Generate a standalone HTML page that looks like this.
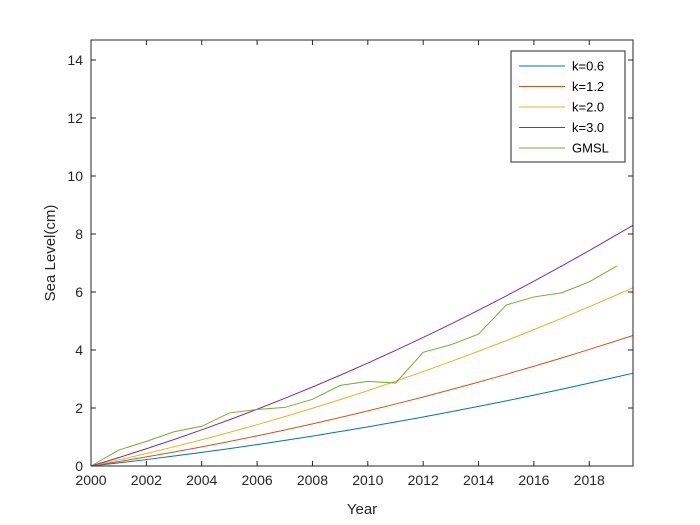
<!DOCTYPE html>
<html><head><meta charset="utf-8"><style>body{margin:0;background:#fff}svg{display:block}</style></head>
<body>
<svg id="chart" width="700" height="525" xmlns="http://www.w3.org/2000/svg" font-family="Liberation Sans, Arial, sans-serif"></svg>
<script>
const years=[2000,2001,2002,2003,2004,2005,2006,2007,2008,2009,2010,2011,2012,2013,2014,2015,2016,2017,2018,2019,2019.58];
const k06=[0,0.108,0.222,0.343,0.469,0.601,0.739,0.883,1.032,1.188,1.35,1.518,1.691,1.871,2.056,2.247,2.445,2.648,2.857,3.073,3.2];
const k12=[0,0.153,0.313,0.483,0.660,0.846,1.040,1.243,1.453,1.672,1.9,2.136,2.380,2.632,2.893,3.162,3.439,3.725,4.019,4.322,4.5];
const k20=[0,0.209,0.430,0.662,0.905,1.159,1.425,1.702,1.990,2.290,2.6,2.923,3.256,3.601,3.957,4.324,4.703,5.093,5.494,5.906,6.15];
const k30=[0,0.290,0.595,0.914,1.247,1.595,1.957,2.334,2.725,3.130,3.55,3.984,4.433,4.896,5.374,5.866,6.372,6.893,7.429,7.979,8.3];
const gmslYears=[2000,2001,2002,2003,2004,2005,2006,2007,2008,2009,2010,2011,2012,2013,2014,2015,2016,2017,2018,2019];
const gmsl=[0,0.55,0.85,1.18,1.37,1.83,1.95,2.02,2.3,2.78,2.92,2.86,3.92,4.18,4.55,5.55,5.83,5.97,6.35,6.9];
const xTicks=[2000,2002,2004,2006,2008,2010,2012,2014,2016,2018];
const yTicks=[0,2,4,6,8,10,12,14];
const seriesNames=["k=0.6","k=1.2","k=2.0","k=3.0","GMSL"];

const L=91,R=633,T=40,B=466,xmin=2000,xmax=2019.58,ymin=0,ymax=14.69;
const sx=v=>L+(v-xmin)/(xmax-xmin)*(R-L);
const sy=v=>B-(v-ymin)/(ymax-ymin)*(B-T);
const svg=document.getElementById('chart');
const NS='http://www.w3.org/2000/svg';
function mk(tag,attrs,parent){const e=document.createElementNS(NS,tag);for(const k in attrs)e.setAttribute(k,attrs[k]);(parent||svg).appendChild(e);return e;}

const axes=mk('rect',{x:L,y:T,width:R-L,height:B-T,fill:'#fff',stroke:'none'});



const colors=['#0072BD','#D95319','#EDB120','#7E2F8E','#77AC30'];
const sets=[[years,k06],[years,k12],[years,k20],[years,k30],[gmslYears,gmsl]];
const lineNames=['line-k06','line-k12','line-k20','line-k30','line-gmsl'];
sets.forEach((s,i)=>{
  const pts=s[0].map((x,j)=>sx(x).toFixed(2)+','+sy(s[1][j]).toFixed(2)).join(' ');
  const p=mk('polyline',{points:pts,fill:'none',stroke:colors[i],'stroke-width':1});
  
  
});

const frame=mk('rect',{x:L,y:T,width:R-L,height:B-T,fill:'none',stroke:'#262626','stroke-width':1});



xTicks.forEach(v=>{
  const x=sx(v);
  mk('line',{x1:x,y1:B,x2:x,y2:B-5,stroke:'#262626'});
  mk('line',{x1:x,y1:T,x2:x,y2:T+5,stroke:'#262626'});
  const t=mk('text',{x:x,y:B+19,'text-anchor':'middle','font-size':14,fill:'#262626'});
  t.textContent=v;
  
  
});
yTicks.forEach(v=>{
  const y=sy(v);
  mk('line',{x1:L,y1:y,x2:L+5,y2:y,stroke:'#262626'});
  mk('line',{x1:R,y1:y,x2:R-5,y2:y,stroke:'#262626'});
  const t=mk('text',{x:L-8,y:y+5,'text-anchor':'end','font-size':14,fill:'#262626'});
  t.textContent=v;
  
  
});

const xt=mk('text',{x:(L+R)/2,y:514,'text-anchor':'middle','font-size':15,fill:'#262626'});
xt.textContent='Year';


const yt=mk('text',{x:0,y:0,'text-anchor':'middle','font-size':15,fill:'#262626',transform:'translate(55,253) rotate(-90)'});
yt.textContent='Sea Level(cm)';



const lg=mk('g',{});


mk('rect',{x:511,y:51,width:114,height:111,fill:'#fff',stroke:'#262626','stroke-width':1},lg);
seriesNames.forEach((n,i)=>{
  const y=66+i*20.5;
  const e=mk('g',{},lg);
  
  
  mk('line',{x1:519,y1:y,x2:565,y2:y,stroke:colors[i],'stroke-width':1},e);
  const t=mk('text',{x:572,y:y+4.5,'font-size':13,fill:'#000'},e);
  t.textContent=n;
});
</script>
</body></html>
